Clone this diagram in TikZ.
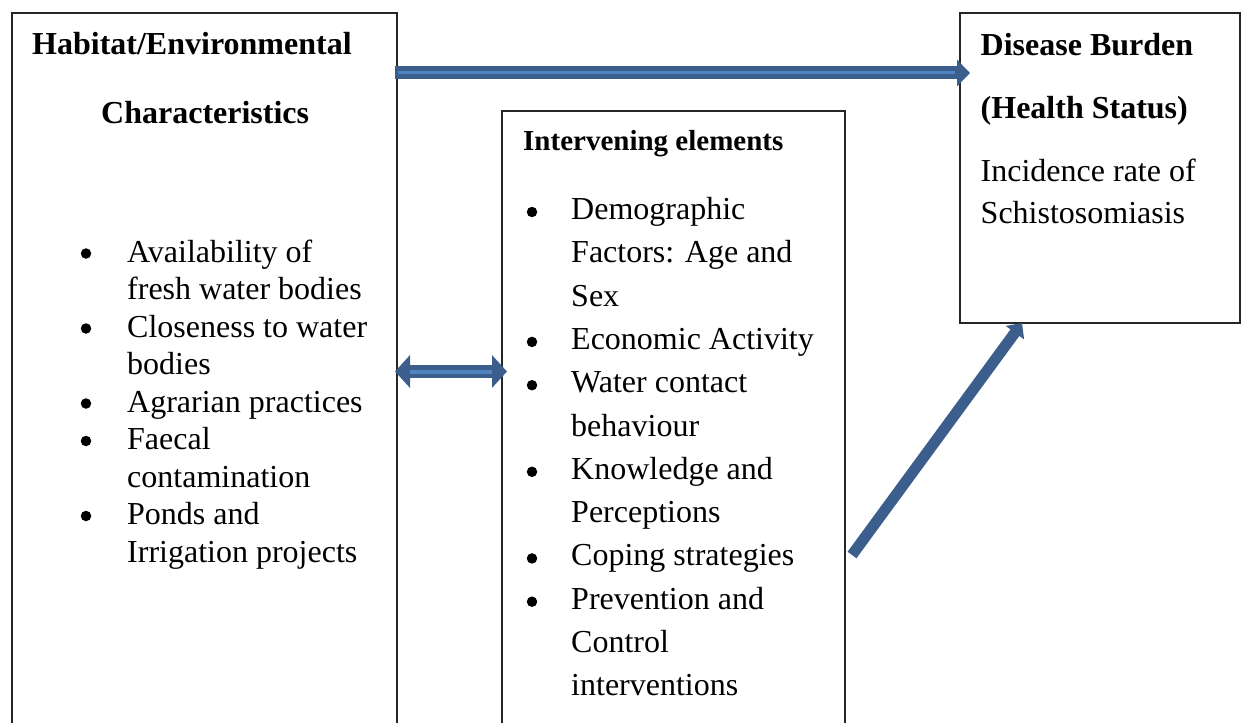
\documentclass[tikz,border=0pt]{standalone}
\usepackage{fontspec}
\setmainfont{Liberation Serif}
\usetikzlibrary{arrows.meta}
\definecolor{arrdark}{HTML}{3B5E8C}
\definecolor{arrlight}{HTML}{5083C0}
\begin{document}
\begin{tikzpicture}[x=1pt,y=-1pt,
 box/.style={draw=black!85,line width=1.3pt,inner sep=0pt,outer sep=0pt},
 txt/.style={anchor=base west,inner sep=0pt,font=\fontsize{32}{38}\selectfont},
 hd/.style={anchor=base west,inner sep=0pt,font=\fontsize{32}{38}\selectfont\bfseries},
 hdsmall/.style={anchor=base west,inner sep=0pt,font=\fontsize{29}{34}\selectfont\bfseries},
 bul/.style={circle,fill=black,inner sep=0pt,minimum size=10.5pt},
 shaft/.style={draw=arrdark,line width=13pt},
 core/.style={draw=arrlight,line width=3pt}]
\clip (0,0) rectangle (1246,722);
\fill[white] (0,0) rectangle (1246,722);
% boxes
\node[box,minimum width=385pt,minimum height=717pt,anchor=north west] (L) at (12,13) {};
\node[box,minimum width=343pt,minimum height=620pt,anchor=north west] (M) at (502,111) {};
\node[box,minimum width=280pt,minimum height=310pt,anchor=north west] (R) at (960,13) {};
% left box text
\node[hd] (lh1) at (32,55) {Habitat/Environmental};
\node[hd] (lh2) at (101,123.5) {Characteristics};
\node[bul] (lb1) at (86,253.5) {};
\node[txt] (l1a) at (127,262) {Availability of};
\node[txt] (l1b) at (127,299.5) {fresh water bodies};
\node[bul] (lb2) at (86,328.5) {};
\node[txt] (l2a) at (127,337) {Closeness to water};
\node[txt] (l2b) at (127,374.5) {bodies};
\node[bul] (lb3) at (86,403.5) {};
\node[txt] (l3a) at (127,412) {Agrarian practices};
\node[bul] (lb4) at (86,441) {};
\node[txt] (l4a) at (127,449.5) {Faecal};
\node[txt] (l4b) at (127,487) {contamination};
\node[bul] (lb5) at (86,516) {};
\node[txt] (l5a) at (127,524.5) {Ponds and};
\node[txt] (l5b) at (127,562) {Irrigation projects};
% middle box text
\node[hdsmall] (mh) at (523,151) {Intervening elements};
\node[bul] (mb1) at (532,212) {};
\node[txt] (m1a) at (571,219.5) {Demographic};
\node[txt] (m1b) at (571,262.8) {Factors: Age and};
\node[txt] (m1c) at (571,306.1) {Sex};
\node[bul] (mb2) at (532,341.9) {};
\node[txt] (m2a) at (571,349.4) {Economic Activity};
\node[bul] (mb3) at (532,385.2) {};
\node[txt] (m3a) at (571,392.7) {Water contact};
\node[txt] (m3b) at (571,436) {behaviour};
\node[bul] (mb4) at (532,471.8) {};
\node[txt] (m4a) at (571,479.3) {Knowledge and};
\node[txt] (m4b) at (571,522.6) {Perceptions};
\node[bul] (mb5) at (532,558.4) {};
\node[txt] (m5a) at (571,565.9) {Coping strategies};
\node[bul] (mb6) at (532,601.7) {};
\node[txt] (m6a) at (571,609.2) {Prevention and};
\node[txt] (m6b) at (571,652.5) {Control};
\node[txt] (m6c) at (571,695.8) {interventions};
% right box text
\node[hd] (rh1) at (980.5,55.3) {Disease Burden};
\node[hd] (rh2) at (980.5,118.7) {(Health Status)};
\node[txt] (r1) at (980.5,181.5) {Incidence rate of};
\node[txt] (r2) at (980.5,223.5) {Schistosomiasis};
% arrows
\coordinate (t0) at ([xshift=-2pt,yshift=-60pt]L.north east);
\coordinate (t1) at ([xshift=10pt,yshift=-60pt]R.north west);
\draw[shaft,-{Triangle[width=26pt,length=13pt]}] (t0) -- (t1);
\draw[core,shorten <=3pt,shorten >=15pt] (t0) -- (t1);
\coordinate (d0) at ([xshift=-2pt]L.east);
\coordinate (d1) at ([xshift=5pt]L.east -| M.west);
\draw[shaft,{Triangle[width=32pt,length=15pt]}-{Triangle[width=32pt,length=15pt]}] (d0) -- (d1);
\draw[core,line width=4pt,shorten <=15pt,shorten >=15pt] (d0) -- (d1);
\coordinate (g0) at (852,555);
\coordinate (g1) at ([xshift=-78pt]R.south);
\draw[shaft,line width=11pt,-{Triangle[width=22pt,length=12pt]}] (g0) -- (g1);
\end{tikzpicture}
\end{document}
